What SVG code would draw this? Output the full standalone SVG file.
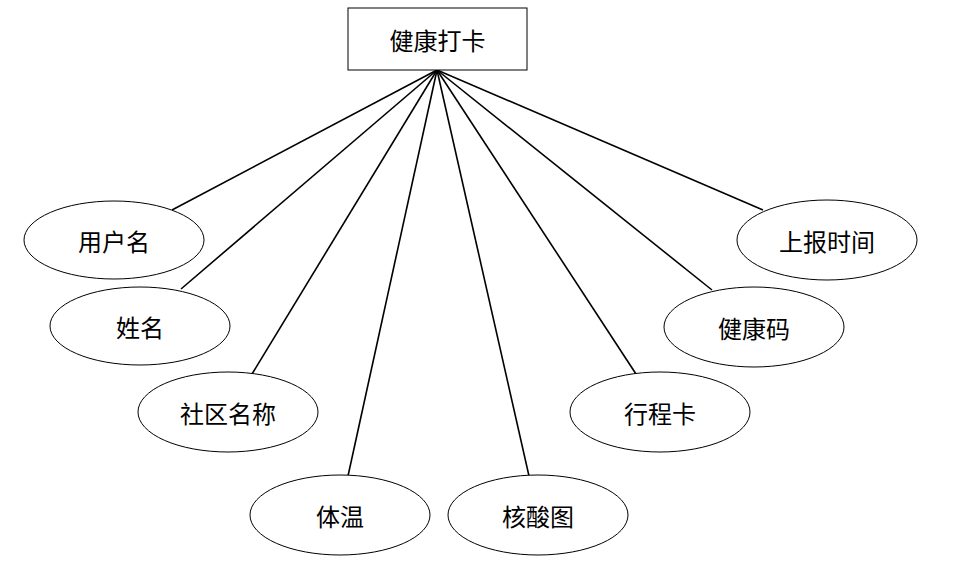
<svg xmlns="http://www.w3.org/2000/svg" width="973" height="571" viewBox="0 0 973 571">
<style>
.n{fill:#fff;stroke:#000;stroke-width:1}
.t{font-family:"Noto Sans CJK SC","Liberation Serif",serif;font-size:24px;text-anchor:middle;dominant-baseline:central;fill:#000}
.c line{stroke:#000;stroke-width:1.6}
</style>
<rect width="973" height="571" fill="#fff"/>
<g class="c" id="connectors">
<line x1="437" y1="70" x2="172" y2="210"/>
<line x1="437" y1="70" x2="181" y2="289"/>
<line x1="437" y1="70" x2="252" y2="374"/>
<line x1="437" y1="70" x2="348" y2="476"/>
<line x1="437" y1="70" x2="529" y2="476"/>
<line x1="437" y1="70" x2="636" y2="374"/>
<line x1="437" y1="70" x2="712" y2="290"/>
<line x1="437" y1="70" x2="763" y2="210"/>
</g>
<g id="jiankangdaka"><rect class="n" x="348" y="8" width="179" height="62"/><text class="t" x="437.5" y="39">健康打卡</text></g>
<g id="yonghuming"><ellipse class="n" cx="114" cy="240" rx="90" ry="39"/><text class="t" x="114" y="240">用户名</text></g>
<g id="xingming"><ellipse class="n" cx="140" cy="326" rx="90" ry="39"/><text class="t" x="140" y="326">姓名</text></g>
<g id="shequmingcheng"><ellipse class="n" cx="228" cy="412" rx="90" ry="40"/><text class="t" x="228" y="412">社区名称</text></g>
<g id="tiwen"><ellipse class="n" cx="340" cy="515" rx="90" ry="40"/><text class="t" x="340" y="515">体温</text></g>
<g id="hesuantu"><ellipse class="n" cx="538" cy="515" rx="90" ry="40"/><text class="t" x="538" y="515">核酸图</text></g>
<g id="xingchengka"><ellipse class="n" cx="660" cy="412" rx="90" ry="40"/><text class="t" x="660" y="412">行程卡</text></g>
<g id="jiankangma"><ellipse class="n" cx="754" cy="327" rx="90" ry="40"/><text class="t" x="754" y="327">健康码</text></g>
<g id="shangbaoshijian"><ellipse class="n" cx="827" cy="240" rx="90" ry="40"/><text class="t" x="827" y="240">上报时间</text></g>
</svg>
